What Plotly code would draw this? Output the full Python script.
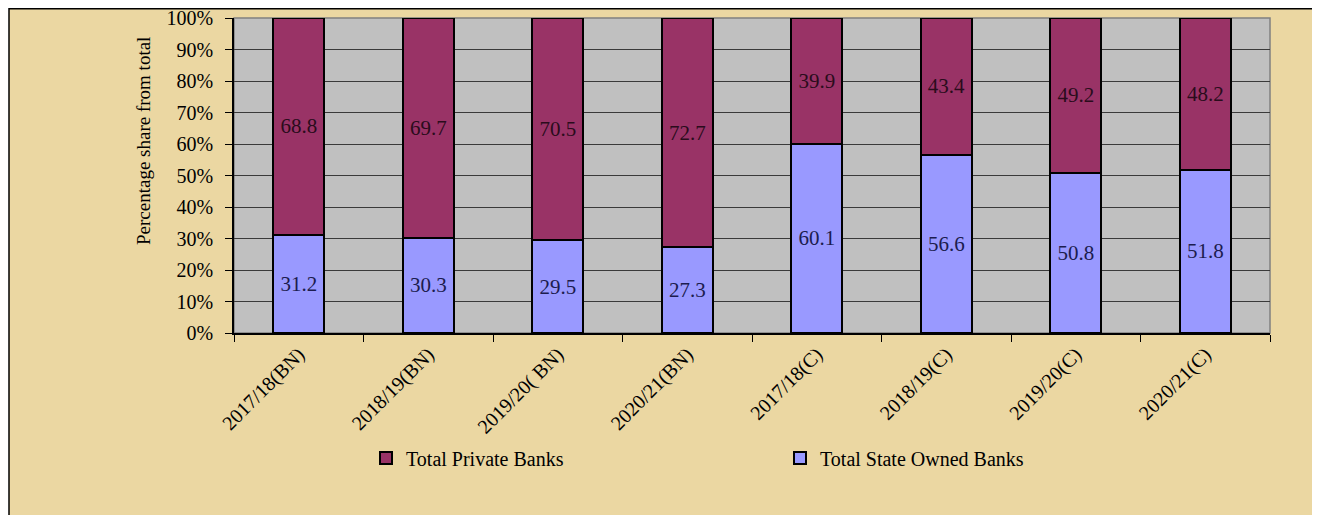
import plotly.graph_objects as go

categories = ["2017/18(BN)", "2018/19(BN)", "2019/20( BN)", "2020/21(BN)",
              "2017/18(C)", "2018/19(C)", "2019/20(C)", "2020/21(C)"]
state_owned = [31.2, 30.3, 29.5, 27.3, 60.1, 56.6, 50.8, 51.8]
private = [68.8, 69.7, 70.5, 72.7, 39.9, 43.4, 49.2, 48.2]
y_ticks = [0, 10, 20, 30, 40, 50, 60, 70, 80, 90, 100]
y_tick_labels = ["0%", "10%", "20%", "30%", "40%", "50%", "60%", "70%", "80%", "90%", "100%"]
y_title = "Percentage share from total"

SERIF = "Liberation Serif, Times New Roman, serif"

fig = go.Figure()
fig.add_trace(go.Bar(
    x=categories, y=state_owned, name="Total State Owned Banks",
    marker=dict(color="#9999FF", line=dict(color="#000000", width=2)),
    text=state_owned, texttemplate="%{text:.1f}", textposition="inside",
    insidetextanchor="middle", constraintext="none",
    textfont=dict(family=SERIF, size=21, color="#1c1c4e"),
    legendrank=2,
))
fig.add_trace(go.Bar(
    x=categories, y=private, name="Total Private Banks",
    marker=dict(color="#993366", line=dict(color="#000000", width=2)),
    text=private, texttemplate="%{text:.1f}", textposition="inside",
    insidetextanchor="middle", constraintext="none",
    textfont=dict(family=SERIF, size=21, color="#2a0c1c"),
    legendrank=1,
))

# page has an 8px body margin; figure is sized so the page is filled
OFF = 8
W, H = 1320 - OFF, 515 - OFF
L, R, T, B = 234 - OFF, 50, 18 - OFF, 182
pw, ph = W - L - R, H - T - B

def px(page_x):
    return (page_x - OFF - L) / pw

def py(page_y):
    return (H - B - (page_y - OFF)) / ph

fig.update_layout(
    width=W, height=H,
    margin=dict(l=L, r=R, t=T, b=B, pad=0, autoexpand=False),
    barmode="stack", bargap=0.606,
    paper_bgcolor="#FFFFFF", plot_bgcolor="#C0C0C0",
    font=dict(family=SERIF, size=20, color="#000000"),
    showlegend=True,
    legend=dict(orientation="h", x=px(366), xanchor="left", y=py(458), yanchor="middle",
                font=dict(family=SERIF, size=20, color="#000000"),
                bgcolor="rgba(0,0,0,0)", entrywidth=369, entrywidthmode="pixels",
                traceorder="normal"),
    shapes=[
        dict(type="rect", xref="paper", yref="paper", x0=px(9), x1=px(1318), y0=py(530), y1=py(8.7),
             fillcolor="#EBD7A2", line=dict(color="#000000", width=1.5), layer="below"),
        dict(type="rect", xref="paper", yref="paper", x0=0, x1=1, y0=0, y1=1,
             fillcolor="#C0C0C0", line=dict(color="#808080", width=1.5), layer="below"),
    ],
    annotations=[
        dict(text=y_title, textangle=-90, xref="paper", yref="paper",
             x=px(143), y=py(141), xanchor="center", yanchor="middle", showarrow=False,
             font=dict(family=SERIF, size=19, color="#000000")),
    ],
)
fig.update_xaxes(
    type="category", tickson="boundaries", ticks="outside", ticklen=7, tickcolor="#000000",
    tickwidth=1, tickangle=-45, showline=True, linecolor="#000000", linewidth=1.5,
    showgrid=False, automargin=False, ticklabeloverflow="allow",
    tickfont=dict(family=SERIF, size=20, color="#000000"),
)
fig.update_yaxes(
    range=[0, 100], tickvals=y_ticks, ticktext=y_tick_labels, ticks="outside", ticklen=7,
    tickcolor="#000000", showline=True, linecolor="#000000", linewidth=1.5,
    showgrid=True, gridcolor="#3a3a3a", gridwidth=1, zeroline=False,
    ticklabelstandoff=8, automargin=False, ticklabeloverflow="allow",
    tickfont=dict(family=SERIF, size=20, color="#000000"),
)

fig.write_html("out.html")
